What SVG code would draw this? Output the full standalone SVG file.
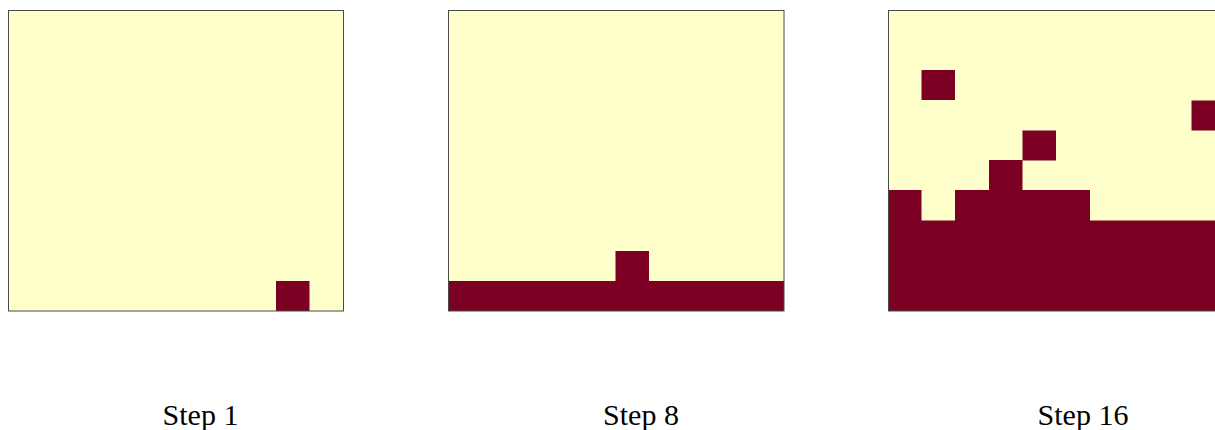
<svg xmlns="http://www.w3.org/2000/svg" width="1215" height="430" viewBox="0 0 1215 430">
<style>
.bg{fill:#FFFFCC;stroke:none}
.c{fill:#7B0023;stroke:none}
.frame{fill:none;stroke:#4a4a4a;stroke-width:1}
.lbl{font-family:"Liberation Serif","Times New Roman",serif;font-size:30px;fill:#000;text-anchor:middle}
</style>
<rect width="1215" height="430" fill="#ffffff"/>
<g id="panel1">
<rect class="bg" x="8" y="10" width="335" height="301"/>
<rect class="c" x="276" y="281" width="33.5" height="30"/>
<rect class="frame" x="8.5" y="10.5" width="335" height="300.5"/>
<text class="lbl" x="200.5" y="425">Step 1</text>
</g>
<g id="panel2">
<rect class="bg" x="448" y="10" width="336" height="301"/>
<rect class="c" x="448" y="281" width="336" height="30"/>
<rect class="c" x="615.5" y="251" width="33.5" height="30.5"/>
<rect class="frame" x="448.5" y="10.5" width="335.5" height="300.5"/>
<text class="lbl" x="641" y="425">Step 8</text>
</g>
<g id="panel3">
<rect class="bg" x="888" y="10" width="335" height="301"/>
<rect class="c" x="921.5" y="70" width="33.5" height="30"/>
<rect class="c" x="1191.5" y="100.5" width="33.5" height="30"/>
<rect class="c" x="1022.5" y="130.5" width="33.5" height="30"/>
<rect class="c" x="989" y="160" width="33.5" height="31"/>
<rect class="c" x="888" y="190" width="33.5" height="31"/>
<rect class="c" x="955" y="190" width="135" height="31"/>
<rect class="c" x="888" y="220.5" width="335" height="90.5"/>
<rect class="frame" x="888.5" y="10.5" width="335" height="300.5"/>
<text class="lbl" x="1083" y="425">Step 16</text>
</g>
</svg>
